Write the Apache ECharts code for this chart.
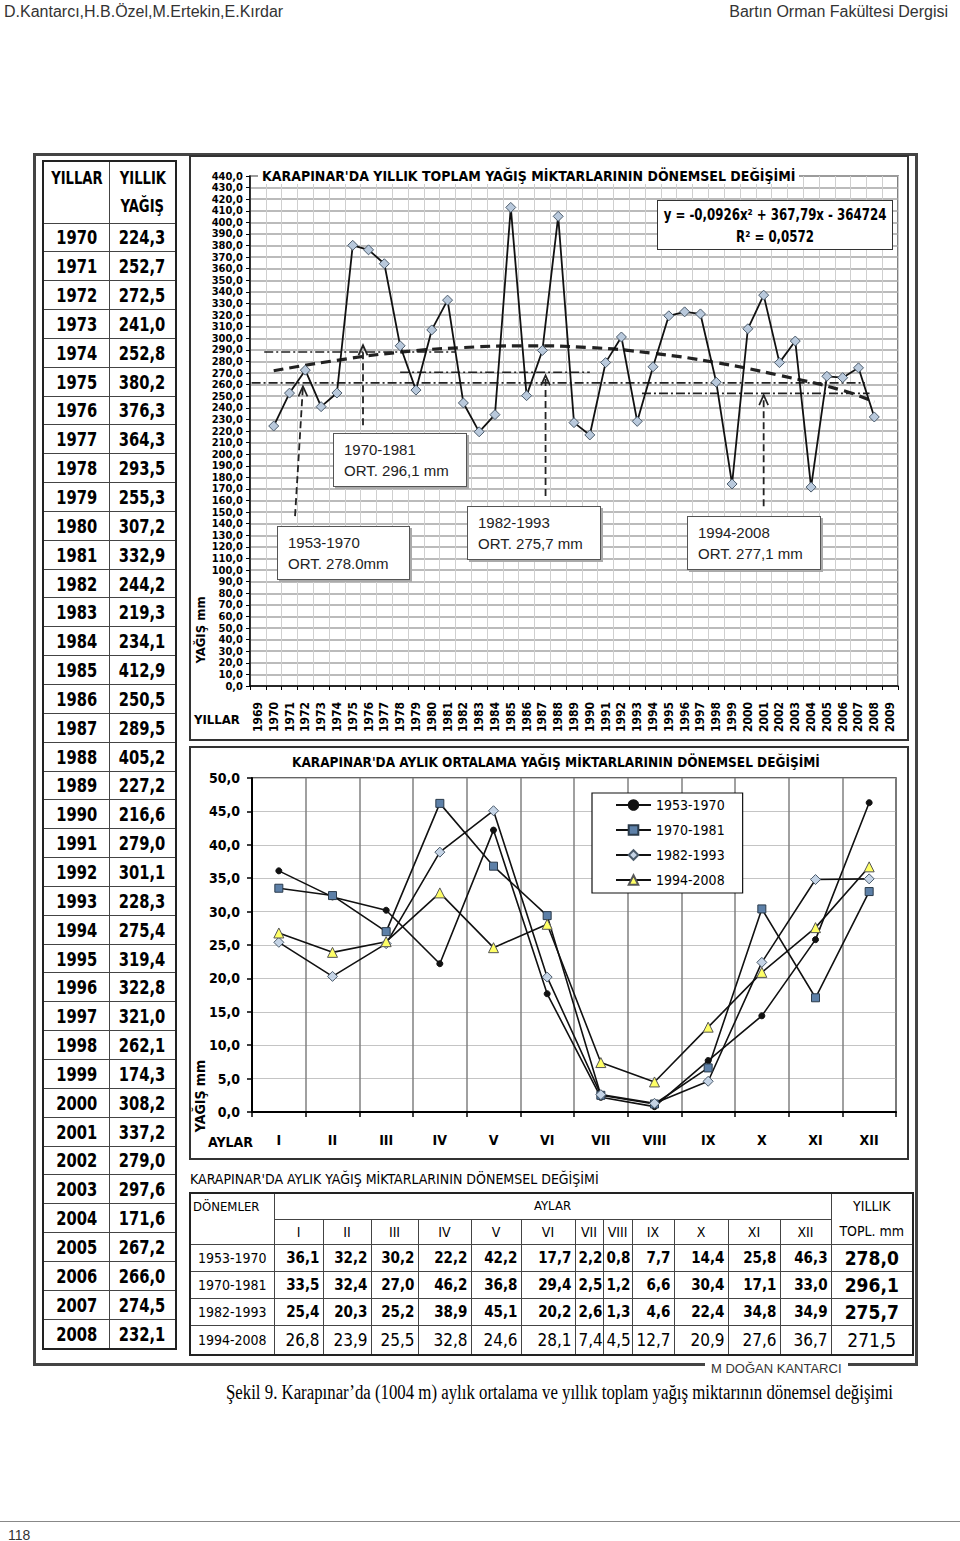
<!DOCTYPE html>
<html><head><meta charset="utf-8">
<title>Karapınar yağış</title>
<script src="https://cdn.jsdelivr.net/npm/echarts@6.0.0/dist/echarts.min.js"></script>
<style>
html,body{margin:0;padding:0;background:#fff;}
body{width:960px;height:1541px;position:relative;overflow:hidden;font-family:"Liberation Sans",Arial,sans-serif;color:#000;}
#chart{position:absolute;left:0;top:0;width:960px;height:1541px;z-index:0;}
.o{position:absolute;z-index:2;white-space:nowrap;}
.nar{font-family:"Liberation Sans Narrow","Arial Narrow","DejaVu Sans Condensed","Liberation Sans",sans-serif;}
.sx{display:inline-block;transform-origin:center;}
.eqline{position:absolute;left:50%;white-space:nowrap;transform:translateX(-50%) scaleX(0.82);transform-origin:center;}
.frame{position:absolute;border:2px solid #333;box-sizing:border-box;z-index:1;pointer-events:none;}
.note{position:absolute;z-index:3;background:#fff;border:1.5px solid #555;box-shadow:2px 2px 0 #aaa;box-sizing:border-box;font-size:15px;line-height:21px;padding:5px 0 0 10px;color:#222;white-space:nowrap;}
#lt{position:absolute;left:42px;top:160px;width:135px;height:1190px;z-index:2;}
#lt table{width:135px;height:1190px;border-collapse:collapse;table-layout:fixed;border:2px solid #222;}
#lt td{border:1.5px solid #444;text-align:center;font-weight:bold;font-size:19px;padding:0;line-height:20px;white-space:nowrap;}
#lt td .sx{transform:scaleX(0.86);}
#lt tr.h td{vertical-align:top;font-size:17px;line-height:28px;padding-top:2px;}
#bt{position:absolute;left:189px;top:1192px;width:723px;height:160px;z-index:2;}
#bt table{width:723px;height:160px;border-collapse:collapse;table-layout:fixed;border:2.5px solid #222;}
#bt td{border:1.5px solid #444;padding:0 3px;font-size:15px;line-height:16px;white-space:nowrap;overflow:hidden;}
</style></head>
<body>
<div id="chart"></div>

<div class="o" style="left:4px;top:3px;font-size:16px;color:#333;">D.Kantarcı,H.B.Özel,M.Ertekin,E.Kırdar</div>
<div class="o" style="right:12px;top:3px;font-size:16px;color:#333;">Bartın Orman Fakültesi Dergisi</div>

<div class="frame" style="left:33px;top:153px;width:885px;height:1213px;border-width:3px 3px 0 3px;border-color:#444;"></div>
<div class="o" style="left:33px;top:1363px;width:672px;height:3px;background:#444;"></div>
<div class="o" style="left:848px;top:1363px;width:70px;height:3px;background:#444;"></div>
<div class="o" style="left:711px;top:1361px;font-size:13px;color:#333;">M DOĞAN KANTARCI</div>

<div class="frame" style="left:189px;top:155px;width:720px;height:586px;"></div>
<div class="frame" style="left:189px;top:746px;width:720px;height:414px;"></div>

<div class="o nar" style="left:258px;top:168px;font-size:14px;font-weight:bold;line-height:16px;background:#fff;padding:0 4px;">KARAPINAR'DA YILLIK TOPLAM YAĞIŞ MİKTARLARININ DÖNEMSEL DEĞİŞİMİ</div>
<div class="o nar" style="left:657px;top:200px;width:236px;height:50px;border:1.5px solid #333;box-sizing:border-box;background:#fff;font-weight:bold;font-size:16px;line-height:22px;">
  <div class="eqline" style="top:3px;">y = -0,0926x² + 367,79x - 364724</div>
  <div class="eqline" style="top:25px;">R² = 0,0572</div>
</div>

<div class="note" style="left:333px;top:433px;width:134px;height:54px;">1970-1981<br>ORT. 296,1 mm</div>
<div class="note" style="left:277px;top:526px;width:133px;height:54px;">1953-1970<br>ORT. 278.0mm</div>
<div class="note" style="left:467px;top:506px;width:134px;height:54px;">1982-1993<br>ORT. 275,7 mm</div>
<div class="note" style="left:687px;top:516px;width:134px;height:54px;">1994-2008<br>ORT. 277,1 mm</div>

<div class="o nar" style="left:168px;top:624px;width:64px;text-align:center;font-size:13px;font-weight:bold;transform:rotate(-90deg);">YAĞIŞ mm</div>
<div class="o nar" style="left:194px;top:712px;font-size:13px;font-weight:bold;">YILLAR</div>

<div class="o nar" style="left:292px;top:754px;font-size:13.5px;font-weight:bold;line-height:16px;">KARAPINAR'DA AYLIK ORTALAMA YAĞIŞ MİKTARLARININ DÖNEMSEL DEĞİŞİMİ</div>
<div class="o nar" style="left:160px;top:1088px;width:80px;text-align:center;font-size:14px;font-weight:bold;transform:rotate(-90deg);">YAĞIŞ mm</div>
<div class="o nar" style="left:208px;top:1134px;font-size:14px;font-weight:bold;">AYLAR</div>

<div class="o nar" style="left:190px;top:1171px;font-size:14px;">KARAPINAR'DA AYLIK YAĞIŞ MİKTARLARININ DÖNEMSEL DEĞİŞİMİ</div>

<div id="lt" class="nar"></div>
<div id="bt" class="nar"></div>

<div class="o" style="left:226px;top:1381px;font-family:'Liberation Serif','Times New Roman',serif;font-size:20px;transform:scaleX(0.84);transform-origin:left center;">Şekil 9. Karapınar’da (1004 m) aylık ortalama ve yıllık toplam yağış miktarının dönemsel değişimi</div>
<div class="o" style="left:0;top:1521px;width:960px;height:1px;background:#888;"></div>
<div class="o" style="left:8px;top:1527px;font-size:14px;color:#333;">118</div>

<script>
// ---------- DATA ----------
const yearLabels = ['1969','1970','1971','1972','1973','1974','1975','1976','1977','1978','1979','1980','1981','1982','1983','1984','1985','1986','1987','1988','1989','1990','1991','1992','1993','1994','1995','1996','1997','1998','1999','2000','2001','2002','2003','2004','2005','2006','2007','2008','2009'];
const annualYears = [1970,1971,1972,1973,1974,1975,1976,1977,1978,1979,1980,1981,1982,1983,1984,1985,1986,1987,1988,1989,1990,1991,1992,1993,1994,1995,1996,1997,1998,1999,2000,2001,2002,2003,2004,2005,2006,2007,2008];
const annualTotals = [224.3,252.7,272.5,241.0,252.8,380.2,376.3,364.3,293.5,255.3,307.2,332.9,244.2,219.3,234.1,412.9,250.5,289.5,405.2,227.2,216.6,279.0,301.1,228.3,275.4,319.4,322.8,321.0,262.1,174.3,308.2,337.2,279.0,297.6,171.6,267.2,266.0,274.5,232.1];
// polynomial trend curve
const trendYears = [1970,1974,1978,1982,1986,1990,1994,1998,2002,2006,2008];
const trendValues = [272,281,288,292,293.5,292,287,279,268,255,245];
// period mean dash-dot lines: [startYear, endYear, level]
const periodMeanLines = [[1969.4,1981.5,288.2],[1978.0,1990.0,270.7],[1968.6,2007.4,261.5],[1993.3,2007.7,252.5]];
// arrows: [baseYear, baseValue, tipYear, tipValue]
const periodArrows = [[1971.35,146.6,1971.85,258.5],[1975.65,225,1975.65,294],[1987.2,164,1987.2,268],[2001.0,155,2001.0,251]];

const months = ['I','II','III','IV','V','VI','VII','VIII','IX','X','XI','XII'];
const periods = ['1953-1970','1970-1981','1982-1993','1994-2008'];
const rain1953_1970 = [36.1,32.2,30.2,22.2,42.2,17.7,2.2,0.8,7.7,14.4,25.8,46.3];
const rain1970_1981 = [33.5,32.4,27.0,46.2,36.8,29.4,2.5,1.2,6.6,30.4,17.1,33.0];
const rain1982_1993 = [25.4,20.3,25.2,38.9,45.1,20.2,2.6,1.3,4.6,22.4,34.8,34.9];
const rain1994_2008 = [26.8,23.9,25.5,32.8,24.6,28.1,7.4,4.5,12.7,20.9,27.6,36.7];
const periodTotals = [278.0,296.1,275.7,271.5];

// ---------- helpers ----------
const NARROW = '"Liberation Sans Narrow","Arial Narrow","DejaVu Sans Condensed","Liberation Sans",sans-serif';
const fmt = v => Number(v).toFixed(1).replace('.', ',');
const sx = t => '<span class="sx">' + t + '</span>';

// ---------- left table ----------
(function(){
  let h = '<table><tr class="h" style="height:62px"><td>' + sx('YILLAR') + '</td><td>' + sx('YILLIK') + '<br>' + sx('YAĞIŞ') + '</td></tr>';
  annualYears.forEach((y,i)=>{ h += '<tr><td>'+sx(y)+'</td><td>'+sx(fmt(annualTotals[i]))+'</td></tr>'; });
  h += '</table>';
  document.getElementById('lt').innerHTML = h;
})();

// ---------- bottom table ----------
(function(){
  const widths = [84,49,48,47,53,50,54,28,29,42,54,52,51,82];
  const rows = [rain1953_1970, rain1970_1981, rain1982_1993, rain1994_2008];
  const rh = [27,27,27,29];
  let h = '<table><colgroup>' + widths.map(w=>'<col style="width:'+w+'px">').join('') + '</colgroup>';
  h += '<tr style="height:26px"><td rowspan="2" style="vertical-align:top;font-size:13px;padding:5px 2px 0 2px;">DÖNEMLER</td>'
     + '<td colspan="12" style="text-align:center;font-size:13px;">AYLAR</td>'
     + '<td rowspan="2" style="text-align:center;font-size:14px;line-height:25px;">YILLIK<br>TOPL. mm</td></tr>';
  h += '<tr style="height:25px">' + months.map(m=>'<td style="text-align:center;font-size:14px;">'+m+'</td>').join('') + '</tr>';
  rows.forEach((r,i)=>{
    const big = i===3;
    h += '<tr style="height:'+rh[i]+'px"><td style="text-align:center;font-size:14px;">'+periods[i]+'</td>';
    h += r.map(v=>'<td style="text-align:right;font-weight:'+(big?'normal':'bold')+';font-size:'+(big?17:15)+'px;">'+fmt(v)+'</td>').join('');
    h += '<td style="text-align:center;font-size:19px;font-weight:'+(big?'normal':'bold')+';">'+fmt(periodTotals[i])+'</td></tr>';
  });
  h += '</table>';
  document.getElementById('bt').innerHTML = h;
})();

// ---------- chart ----------
const chart = echarts.init(document.getElementById('chart'), null, {renderer:'svg', width:960, height:1541});
const chevron = 'path://M0,12 L6,0 L12,12';
const series = [];
periodMeanLines.forEach(l=>{
  series.push({type:'line', xAxisIndex:1, yAxisIndex:0, data:[[l[0],l[2]],[l[1],l[2]]], symbol:'none', silent:true,
    lineStyle:{color:'#222', width:1.6, type:[9,3,2,3]}, z:3});
});
periodArrows.forEach(a=>{
  series.push({type:'line', xAxisIndex:1, yAxisIndex:0, silent:true, z:3,
    data:[{value:[a[0],a[1]], symbol:'none'},{value:[a[2],a[3]], symbol:chevron, symbolSize:[9,10], symbolOffset:[0,'50%']}],
    lineStyle:{color:'#222', width:1.8, type:[7,4]},
    itemStyle:{color:'rgba(0,0,0,0)', borderColor:'#222', borderWidth:1.8}});
});
series.push({type:'line', xAxisIndex:1, yAxisIndex:0, data:trendYears.map((y,i)=>[y,trendValues[i]]), smooth:true, symbol:'none', silent:true,
  lineStyle:{color:'#222', width:3.2, type:[10,6]}, z:4});
series.push({type:'line', xAxisIndex:1, yAxisIndex:0, data:annualYears.map((y,i)=>[y,annualTotals[i]]),
  symbol:'diamond', symbolSize:10, itemStyle:{color:'#b9c9dc', borderColor:'#4b5b6b', borderWidth:1},
  lineStyle:{color:'#111', width:1.8}, z:5});

const monthly = [
  {name:periods[0], data:rain1953_1970, symbol:'circle', symbolSize:6, itemStyle:{color:'#111', borderColor:'#111', borderWidth:1}},
  {name:periods[1], data:rain1970_1981, symbol:'rect', symbolSize:8, itemStyle:{color:'#5d80a8', borderColor:'#2b3b4b', borderWidth:1}},
  {name:periods[2], data:rain1982_1993, symbol:'diamond', symbolSize:10, itemStyle:{color:'#c5d4e6', borderColor:'#4b5b6b', borderWidth:1}},
  {name:periods[3], data:rain1994_2008, symbol:'triangle', symbolSize:10, itemStyle:{color:'#ffff66', borderColor:'#555', borderWidth:1}}
];
monthly.forEach(m=>{
  series.push(Object.assign({type:'line', xAxisIndex:2, yAxisIndex:1, lineStyle:{color:'#111', width:1.6}, z:5}, m));
});

chart.setOption({
  animation:false,
  backgroundColor:'transparent',
  textStyle:{fontFamily:NARROW},
  grid:[
    {left:250, top:176, width:648, height:510, show:true, borderColor:'#555', borderWidth:1.5, backgroundColor:'transparent'},
    {left:252, top:778, width:644, height:334, show:true, borderColor:'#333', borderWidth:1.5, backgroundColor:'transparent'}
  ],
  legend:{data:periods, orient:'vertical', left:592, top:793, padding:[4,18,5,23], itemWidth:35, itemHeight:12, itemGap:9,
    backgroundColor:'#fff', borderColor:'#111', borderWidth:1.2, textStyle:{fontFamily:NARROW, fontSize:14, color:'#000', lineHeight:16}},
  xAxis:[
    {gridIndex:0, type:'category', data:yearLabels, boundaryGap:true,
      axisLine:{lineStyle:{color:'#000', width:1.5}}, axisTick:{show:true, length:4, lineStyle:{color:'#000'}},
      axisLabel:{interval:0, rotate:90, fontSize:12, fontWeight:'bold', fontFamily:NARROW, color:'#000', margin:16},
      splitLine:{show:true, lineStyle:{color:'#cfcfcf', width:1}}},
    {gridIndex:0, type:'value', min:1968.5, max:2009.5, show:false},
    {gridIndex:1, type:'category', data:months, boundaryGap:true,
      axisLine:{lineStyle:{color:'#000', width:2}}, axisTick:{show:true, length:5, lineStyle:{color:'#000', width:1.5}},
      axisLabel:{interval:0, fontSize:14, fontWeight:'bold', fontFamily:NARROW, color:'#000', margin:21},
      splitLine:{show:true, lineStyle:{color:'#808080', width:1.5}}}
  ],
  yAxis:[
    {gridIndex:0, type:'value', min:0, max:440, interval:10,
      axisLine:{show:true, lineStyle:{color:'#000', width:1.5}}, axisTick:{show:true, length:4, lineStyle:{color:'#000'}},
      axisLabel:{formatter:fmt, fontSize:11, fontWeight:'bold', fontFamily:NARROW, color:'#000', margin:7, lineHeight:11,
        showMinLabel:true, showMaxLabel:true, hideOverlap:false},
      splitLine:{show:true, lineStyle:{color:'#a5a5a5', width:1.5}}},
    {gridIndex:1, type:'value', min:0, max:50, interval:5,
      axisLine:{show:true, lineStyle:{color:'#000', width:2}}, axisTick:{show:true, length:5, lineStyle:{color:'#000', width:1.5}},
      axisLabel:{formatter:fmt, fontSize:14, fontWeight:'bold', fontFamily:NARROW, color:'#000', margin:12, showMinLabel:true, showMaxLabel:true},
      splitLine:{show:true, lineStyle:{color:'#c4c4c4', width:1.2}}}
  ],
  series:series
});
</script>
</body></html>
